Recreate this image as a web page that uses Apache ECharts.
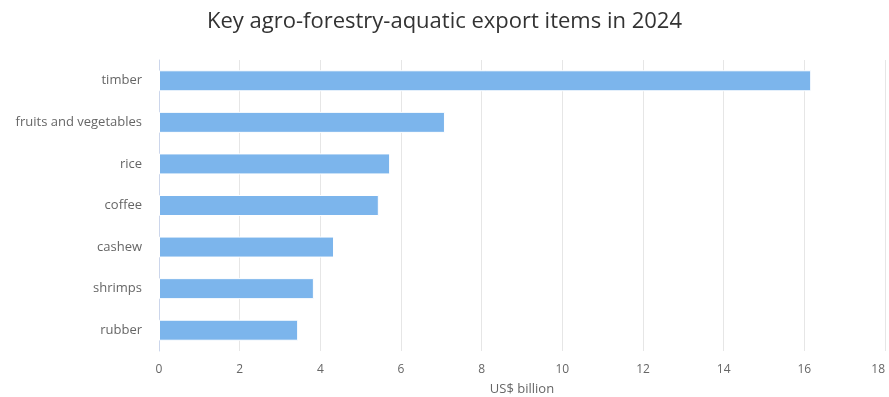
<!DOCTYPE html>
<html>
<head>
<meta charset="utf-8">
<script src="https://cdn.jsdelivr.net/npm/echarts@6/dist/echarts.min.js"></script>
<style>
  html, body { margin: 0; padding: 0; background: #fff; }
  #chart { width: 889px; height: 397px; }
</style>
</head>
<body>
<div id="chart"></div>
<script>
// export items, top to bottom as drawn
var items = ['timber', 'fruits and vegetables', 'rice', 'coffee', 'cashew', 'shrimps', 'rubber'];
var values = [16.17, 7.09, 5.73, 5.45, 4.34, 3.84, 3.45]; // US$ billion
var xTicks = [0, 2, 4, 6, 8, 10, 12, 14, 16, 18];

var myChart = echarts.init(document.getElementById('chart'));
var font = '"Open Sans", "DejaVu Sans", sans-serif';

var option = {
    animation: false,
    title: {
        text: 'Key agro-forestry-aquatic export items in 2024',
        left: 'center',
        top: 6,
        textStyle: { fontFamily: font, fontSize: 22, fontWeight: 'normal', color: '#333333' }
    },
    grid: { left: 159, right: 4, top: 60, bottom: 46, containLabel: false, outerBoundsMode: 'none' },
    xAxis: {
        type: 'value',
        min: xTicks[0],
        max: xTicks[xTicks.length - 1],
        interval: 2,
        name: 'US$ billion',
        nameLocation: 'middle',
        nameGap: 32,
        nameTextStyle: { fontFamily: font, fontSize: 13, color: '#666666' },
        axisLine: { show: false },
        axisTick: { show: false },
        axisLabel: {
            fontFamily: font, fontSize: 12, color: '#666666', margin: 13,
            alignMaxLabel: 'right',
            formatter: function (v) { return v; }
        },
        splitLine: { show: true, lineStyle: { color: '#e6e6e6', width: 1 } }
    },
    yAxis: {
        type: 'category',
        inverse: true,
        data: items,
        axisLine: { show: true, lineStyle: { color: '#ccd6eb', width: 1 } },
        axisTick: { show: false },
        axisLabel: { fontFamily: font, fontSize: 13, color: '#666666', margin: 17 },
        splitLine: { show: false }
    },
    series: [
        {
            type: 'bar',
            data: values,
            barWidth: 21,
            itemStyle: { color: '#7cb5ec', borderColor: '#ffffff', borderWidth: 1 }
        }
    ]
};
myChart.setOption(option);
</script>
</body>
</html>
